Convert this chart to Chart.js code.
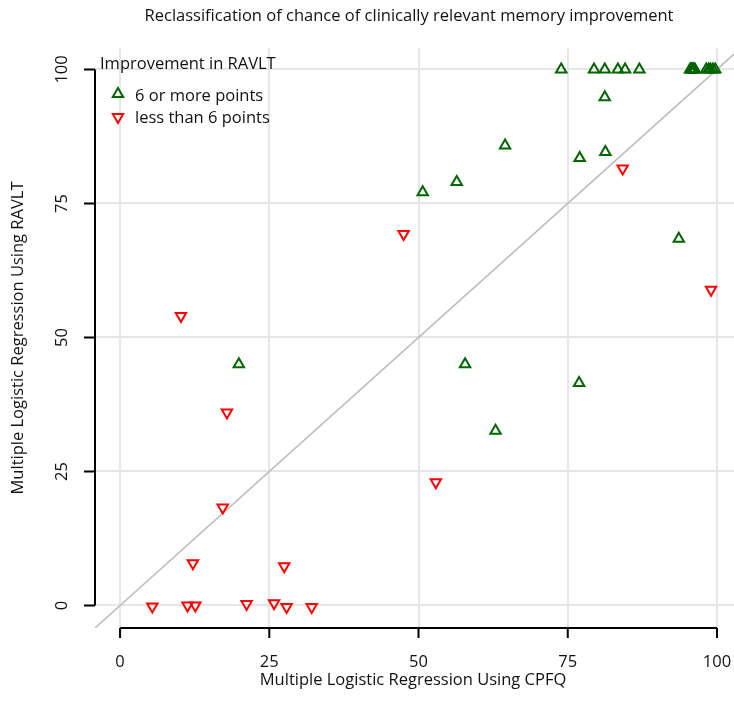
<!DOCTYPE html>
<html lang="en">
<head>
<meta charset="UTF-8">
<title>Reclassification of chance of clinically relevant memory improvement</title>
<script src="https://cdn.jsdelivr.net/npm/chart.js@4"></script>
<style>
  html, body { margin: 0; padding: 0; background: #fff; }
  #chart { display: block; }
</style>
</head>
<body>
<canvas id="chart" width="734" height="718"></canvas>
<script>
// values (percent chance)
const improvedX = [73.9, 79.4, 81.2, 83.4, 84.6, 87.0, 95.5, 95.7, 95.9, 96.1, 96.3, 98.2, 98.6, 98.9, 99.3, 99.7,
                   81.2, 64.5, 77.0, 81.3, 50.7, 56.4, 93.6, 19.9, 57.8, 76.9, 62.9];
const improvedY = [100, 100, 100, 100, 100, 100, 100, 100, 100, 100, 100, 100, 100, 100, 100, 100,
                   94.8, 85.8, 83.5, 84.6, 77.1, 79.0, 68.4, 45.0, 45.0, 41.5, 32.6];

const notImprovedX = [10.2, 47.5, 84.2, 99.0, 17.9, 52.9, 17.2, 12.2, 27.5, 5.4, 11.3, 12.6, 21.2, 25.8, 27.9, 32.1];
const notImprovedY = [54.0, 69.3, 81.5, 58.9, 36.0, 23.0, 18.3, 7.9, 7.3, -0.2, 0.0, 0.0, 0.3, 0.4, -0.3, -0.3];

const axisTicks = [0, 25, 50, 75, 100];
const identityLine = [-10, 110];

const titleText = 'Reclassification of chance of clinically relevant memory improvement';
const xTitle = 'Multiple Logistic Regression Using CPFQ';
const yTitle = 'Multiple Logistic Regression Using RAVLT';
const legendTitle = 'Improvement in RAVLT';
const seriesNames = ['6 or more points', 'less than 6 points'];

const GREEN = '#006400';
const RED = '#ff0000';
const FONT = '16.5px "Open Sans", sans-serif';

function toPoints(xs, ys) {
    return xs.map((x, i) => ({ x: x, y: ys[i] }));
}

function setTicks(scale) {
    scale.ticks = axisTicks.map(v => ({ value: v }));
}

function triangle(ctx, color, rotation, x, y) {
    ctx.strokeStyle = color;
    ctx.fillStyle = 'rgba(0,0,0,0)';
    ctx.lineWidth = 2;
    Chart.helpers.drawPoint(ctx, { pointStyle: 'triangle', rotation: rotation, radius: 6, borderWidth: 2 }, x, y);
}

// R style axes, labels and legend
const rDecor = {
    id: 'rDecor',
    afterDraw(chart) {
        const ctx = chart.ctx;
        const area = chart.chartArea;
        const xs = chart.scales.x;
        const ys = chart.scales.y;
        const first = axisTicks[0], last = axisTicks[axisTicks.length - 1];

        ctx.save();
        ctx.strokeStyle = '#000';
        ctx.lineWidth = 2;
        ctx.beginPath();
        ctx.moveTo(xs.getPixelForValue(first), area.bottom);
        ctx.lineTo(xs.getPixelForValue(last), area.bottom);
        axisTicks.forEach(v => {
            const p = xs.getPixelForValue(v);
            ctx.moveTo(p, area.bottom);
            ctx.lineTo(p, area.bottom + 10);
        });
        ctx.moveTo(area.left, ys.getPixelForValue(first));
        ctx.lineTo(area.left, ys.getPixelForValue(last));
        axisTicks.forEach(v => {
            const p = ys.getPixelForValue(v);
            ctx.moveTo(area.left, p);
            ctx.lineTo(area.left - 11, p);
        });
        ctx.stroke();

        ctx.fillStyle = '#111';
        ctx.font = FONT;
        ctx.textAlign = 'center';
        ctx.textBaseline = 'middle';
        axisTicks.forEach(v => ctx.fillText(String(v), xs.getPixelForValue(v), area.bottom + 34));
        axisTicks.forEach(v => {
            ctx.save();
            ctx.translate(area.left - 33, ys.getPixelForValue(v));
            ctx.rotate(-Math.PI / 2);
            ctx.fillText(String(v), 0, 0);
            ctx.restore();
        });

        ctx.fillText(titleText, 409, 16);
        ctx.fillText(xTitle, 413, 680);
        ctx.save();
        ctx.translate(18, 338);
        ctx.rotate(-Math.PI / 2);
        ctx.fillText(yTitle, 0, 0);
        ctx.restore();

        // legend
        ctx.textAlign = 'left';
        ctx.fillText(legendTitle, 100, 64);
        ctx.fillText(seriesNames[0], 135, 96);
        ctx.fillText(seriesNames[1], 135, 118);
        triangle(ctx, GREEN, 0, 118, 94);
        triangle(ctx, RED, 180, 118, 117);
        ctx.restore();
    }
};

new Chart(document.getElementById('chart'), {
    type: 'scatter',
    data: {
        datasets: [
            {
                label: seriesNames[0],
                data: toPoints(improvedX, improvedY),
                pointStyle: 'triangle',
                pointRadius: 6,
                borderWidth: 2,
                borderColor: GREEN,
                backgroundColor: 'rgba(0,0,0,0)'
            },
            {
                label: seriesNames[1],
                data: toPoints(notImprovedX, notImprovedY),
                pointStyle: 'triangle',
                rotation: 180,
                pointRadius: 6,
                borderWidth: 2,
                borderColor: RED,
                backgroundColor: 'rgba(0,0,0,0)'
            },
            {
                label: 'identity',
                data: toPoints(identityLine, identityLine),
                showLine: true,
                pointRadius: 0,
                borderWidth: 1.6,
                borderColor: '#bdbdbd'
            }
        ]
    },
    options: {
        responsive: false,
        animation: false,
        devicePixelRatio: 1,
        layout: { autoPadding: false, padding: { left: 95, top: 48, right: 0, bottom: 90 } },
        plugins: {
            legend: { display: false },
            tooltip: { enabled: false },
            title: { display: false }
        },
        scales: {
            x: {
                type: 'linear',
                min: -4.2,
                max: 102.85,
                afterBuildTicks: setTicks,
                ticks: { display: false },
                grid: { color: '#e6e6e6', lineWidth: 2, drawTicks: false },
                border: { display: false }
            },
            y: {
                type: 'linear',
                min: -4.2,
                max: 104,
                afterBuildTicks: setTicks,
                ticks: { display: false },
                grid: { color: '#e6e6e6', lineWidth: 2, drawTicks: false },
                border: { display: false }
            }
        }
    },
    plugins: [rDecor]
});
</script>
</body>
</html>
